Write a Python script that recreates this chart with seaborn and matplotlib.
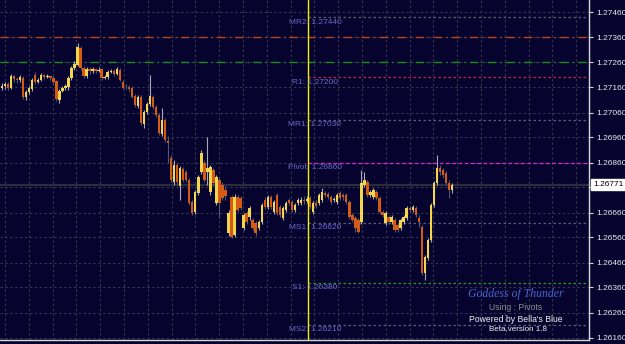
import numpy as np
import pandas as pd
import matplotlib
matplotlib.use("Agg")
import matplotlib.pyplot as plt
import seaborn as sns

# ---------------- data ----------------
opens = [1.27158,1.27166,1.27174,1.27158,1.27206,1.27194,1.27190,1.27198,1.27122,1.27142,
         1.27154,1.27210,1.27182,1.27190,1.27210,1.27202,1.27206,1.27198,1.27186,1.27110,
         1.27146,1.27158,1.27162,1.27198,1.27238,1.27250,1.27318,1.27238,1.27206,1.27234,
         1.27226,1.27234,1.27226,1.27234,1.27198,1.27202,1.27222,1.27226,1.27214,1.27230,
         1.27182,1.27162,1.27162,1.27158,1.27126,1.27086,1.27122,1.27014,1.27062,1.27094,
         1.27122,1.27082,1.27050,1.26974,1.27030,1.26946,1.26878,1.26782,1.26850,1.26766,
         1.26834,1.26822,1.26790,1.26702,1.26662,1.26738,1.26822,1.26858,1.26822,1.26742,
         1.26830,1.26698,1.26790,1.26770,1.26750,1.26578,1.26722,1.26570,1.26722,1.26718,
         1.26598,1.26658,1.26642,1.26630,1.26618,1.26598,1.26622,1.26710,1.26682,1.26722,
         1.26662,1.26730,1.26682,1.26638,1.26670,1.26710,1.26702,1.26670,1.26698,1.26698,
         1.26710,1.26706,1.26718,1.26662,1.26698,1.26698,1.26710,1.26738,1.26734,1.26722,
         1.26710,1.26702,1.26738,1.26730,1.26730,1.26702,1.26650,1.26638,1.26630,1.26622,
         1.26770,1.26782,1.26730,1.26722,1.26742,1.26718,1.26662,1.26618,1.26642,1.26622,
         1.26630,1.26610,1.26598,1.26622,1.26638,1.26678,1.26670,1.26678,1.26638,1.26602,
         1.26418,1.26478,1.26550,1.26690,1.26778,1.26838,1.26830,1.26818,1.26778,1.26750]
highs = [1.27178,1.27182,1.27182,1.27214,1.27210,1.27202,1.27210,1.27206,1.27150,1.27166,
         1.27198,1.27222,1.27198,1.27218,1.27214,1.27214,1.27210,1.27206,1.27190,1.27154,
         1.27166,1.27174,1.27206,1.27246,1.27266,1.27338,1.27326,1.27246,1.27242,1.27242,
         1.27242,1.27238,1.27242,1.27238,1.27210,1.27230,1.27234,1.27234,1.27242,1.27238,
         1.27190,1.27174,1.27170,1.27166,1.27134,1.27130,1.27130,1.27070,1.27102,1.27210,
         1.27130,1.27090,1.27058,1.27078,1.27038,1.26966,1.26890,1.26870,1.26858,1.26846,
         1.26842,1.26830,1.26798,1.26710,1.26750,1.26810,1.26910,1.26870,1.26962,1.26850,
         1.26838,1.26810,1.26798,1.26782,1.26766,1.26670,1.26730,1.26734,1.26730,1.26726,
         1.26658,1.26666,1.26686,1.26638,1.26626,1.26630,1.26698,1.26722,1.26730,1.26730,
         1.26710,1.26738,1.26690,1.26686,1.26706,1.26718,1.26710,1.26698,1.26718,1.26722,
         1.26726,1.26726,1.26726,1.26706,1.26710,1.26738,1.26758,1.26746,1.26742,1.26730,
         1.26722,1.26738,1.26746,1.26738,1.26738,1.26710,1.26658,1.26646,1.26638,1.26830,
         1.26822,1.26790,1.26750,1.26758,1.26750,1.26726,1.26670,1.26666,1.26650,1.26650,
         1.26638,1.26618,1.26638,1.26650,1.26686,1.26686,1.26690,1.26686,1.26650,1.26610,
         1.26490,1.26558,1.26698,1.26786,1.26890,1.26850,1.26838,1.26826,1.26790,1.26778]
lows = [1.27150,1.27154,1.27150,1.27154,1.27182,1.27178,1.27182,1.27114,1.27110,1.27134,
        1.27146,1.27174,1.27178,1.27186,1.27194,1.27198,1.27190,1.27174,1.27106,1.27098,
        1.27142,1.27150,1.27150,1.27190,1.27230,1.27246,1.27230,1.27198,1.27198,1.27214,
        1.27218,1.27218,1.27222,1.27190,1.27194,1.27194,1.27218,1.27206,1.27210,1.27186,
        1.27154,1.27154,1.27146,1.27118,1.27082,1.27078,1.27010,1.26998,1.27054,1.27086,
        1.27074,1.27042,1.26970,1.26966,1.26942,1.26858,1.26782,1.26770,1.26770,1.26710,
        1.26782,1.26782,1.26690,1.26650,1.26654,1.26730,1.26814,1.26782,1.26770,1.26730,
        1.26766,1.26690,1.26638,1.26710,1.26710,1.26566,1.26558,1.26562,1.26662,1.26670,
        1.26590,1.26614,1.26630,1.26590,1.26566,1.26590,1.26614,1.26674,1.26674,1.26674,
        1.26654,1.26650,1.26642,1.26630,1.26662,1.26690,1.26662,1.26662,1.26690,1.26690,
        1.26694,1.26698,1.26674,1.26654,1.26678,1.26690,1.26702,1.26722,1.26714,1.26694,
        1.26702,1.26694,1.26710,1.26710,1.26694,1.26634,1.26622,1.26582,1.26578,1.26614,
        1.26762,1.26722,1.26722,1.26714,1.26710,1.26654,1.26642,1.26610,1.26614,1.26614,
        1.26582,1.26582,1.26590,1.26614,1.26630,1.26662,1.26662,1.26642,1.26602,1.26410,
        1.26390,1.26470,1.26542,1.26682,1.26770,1.26810,1.26798,1.26770,1.26718,1.26738]
closes = [1.27166,1.27174,1.27158,1.27206,1.27194,1.27190,1.27202,1.27122,1.27142,1.27158,
          1.27190,1.27182,1.27190,1.27210,1.27202,1.27206,1.27198,1.27182,1.27114,1.27146,
          1.27158,1.27166,1.27198,1.27238,1.27254,1.27322,1.27238,1.27206,1.27234,1.27226,
          1.27234,1.27226,1.27230,1.27198,1.27202,1.27222,1.27226,1.27214,1.27234,1.27190,
          1.27158,1.27160,1.27154,1.27122,1.27090,1.27122,1.27018,1.27062,1.27094,1.27126,
          1.27082,1.27050,1.26978,1.27030,1.26950,1.26938,1.26790,1.26850,1.26782,1.26838,
          1.26790,1.26790,1.26698,1.26658,1.26742,1.26802,1.26898,1.26790,1.26838,1.26842,
          1.26778,1.26802,1.26698,1.26718,1.26726,1.26658,1.26562,1.26722,1.26670,1.26678,
          1.26650,1.26622,1.26678,1.26598,1.26578,1.26622,1.26690,1.26682,1.26722,1.26682,
          1.26702,1.26658,1.26650,1.26678,1.26698,1.26698,1.26670,1.26690,1.26710,1.26710,
          1.26706,1.26714,1.26682,1.26698,1.26686,1.26730,1.26742,1.26730,1.26722,1.26702,
          1.26714,1.26730,1.26718,1.26722,1.26702,1.26642,1.26630,1.26598,1.26582,1.26778,
          1.26790,1.26730,1.26742,1.26750,1.26718,1.26662,1.26650,1.26658,1.26622,1.26642,
          1.26590,1.26590,1.26630,1.26642,1.26678,1.26670,1.26682,1.26650,1.26622,1.26418,
          1.26482,1.26550,1.26690,1.26778,1.26838,1.26822,1.26810,1.26778,1.26750,1.26771]

price_ticks = [1.27460, 1.27360, 1.27260, 1.27160, 1.27060, 1.26960, 1.26860,
               1.26760, 1.26660, 1.26560, 1.26460, 1.26360, 1.26260, 1.26160]
pivot_names = ["MR2", "R1", "MR1", "Pivot", "MS1", "S1", "MS2"]
pivot_values = [1.27440, 1.27200, 1.27030, 1.26860, 1.26620, 1.26380, 1.26210]
band_values = [1.27360, 1.27260]
current_price = 1.26771
watermark = ["Goddess of Thunder", "Using : Pivots", "Powered by Bella's Blue", "Beta,version 1.8"]

# ---------------- styling ----------------
NAVY = "#06042f"
sns.set_theme(style="dark", rc={"axes.facecolor": NAVY, "figure.facecolor": NAVY,
                                 "savefig.facecolor": NAVY})
plt.rcParams["font.family"] = ["Liberation Sans", "DejaVu Sans"]

df = pd.DataFrame({"bar": np.arange(len(opens)), "open": opens, "high": highs,
                   "low": lows, "close": closes})
df["up"] = df["close"] >= df["open"]

W, H = 625, 344
fig = plt.figure(figsize=(W / 100, H / 100), dpi=100)
ax = fig.add_axes([0, 4 / H, 589 / W, 340 / H])

PX = 3.02           # pixels per bar
ax.set_xlim(-2 / PX, (589 - 2) / PX)
ax.set_ylim(1.26150, 1.27510)

def px2x(px):
    return (px - 2) / PX

# grid
grid_col = "#34344a"
for p in price_ticks:
    ax.axhline(p, color=grid_col, lw=0.8, ls=(0, (2.2, 2.2)), zorder=0)
for k in range(25):
    ax.axvline(px2x(5 + 23.8 * k), color=grid_col, lw=0.8, ls=(0, (2.2, 2.2)), zorder=0)

# current price line
ax.axhline(current_price, color="#2c2c3c", lw=1.6, zorder=1)

# full-width band lines
ax.axhline(band_values[0], color="#b8441c", lw=1.0, ls=(0, (6, 3, 1, 3)), zorder=2)
ax.axhline(band_values[1], color="#1c8c1c", lw=1.0, ls=(0, (6, 3, 1, 3)), zorder=2)

# pivot lines starting at the vertical marker
vx = px2x(308)
pstyle = {"MR2": ("#5c5c70", (0, (2, 2))), "R1": ("#c8203c", (0, (2, 2))),
          "MR1": ("#5c5c70", (0, (2, 2))), "Pivot": ("#d824d8", (0, (3, 2))),
          "MS1": ("#5c5c70", (0, (2, 2))), "S1": ("#22a022", (0, (2, 2))),
          "MS2": ("#5c5c70", (0, (2, 2)))}
for name, val in zip(pivot_names, pivot_values):
    col, ls = pstyle[name]
    ax.hlines(val, vx, px2x(587), colors=col, lw=0.9, linestyles=[ls], zorder=2)

# candles
bw = 2.4 / PX
up = df[df["up"]]
dn = df[~df["up"]]
ax.vlines(up["bar"], up["low"], up["high"], colors="#a8a8b8", lw=0.8, zorder=3)
ax.vlines(dn["bar"], dn["low"], dn["high"], colors="#4c5a6a", lw=0.8, zorder=3)
ax.bar(up["bar"], np.maximum(up["close"] - up["open"], 0.00002), bottom=up["open"],
       width=bw, color="#f2d64e", edgecolor="none", zorder=4)
ax.bar(dn["bar"], np.maximum(dn["open"] - dn["close"], 0.00002), bottom=dn["close"],
       width=bw, color="#d45a16", edgecolor="none", zorder=4)

# vertical yellow marker
ax.axvline(vx, color="#f0f000", lw=1.0, zorder=5)

# pivot labels
for name, val in zip(pivot_names, pivot_values):
    ax.text(px2x(315), val - 0.00005, f"{name}: {val:.5f}", ha="center", va="top",
            color="#6868c8", fontsize=6, zorder=6)

# axes (the tag of the current price hides the 1.26760 label)
ax.yaxis.tick_right()
ax.set_yticks(price_ticks)
ax.set_yticklabels(["" if abs(p - 1.26760) < 1e-7 else f"{p:.5f}" for p in price_ticks])
ax.set_xticks([px2x(5 + 47.6 * k) for k in range(13)])
ax.set_xticklabels([])
ax.tick_params(axis="y", direction="out", length=3, width=0.8, color="#d8d8d8",
               labelsize=6, labelcolor="#e8e8e8", pad=2)
ax.tick_params(axis="x", direction="out", length=3, width=0.8, color="#d8d8d8")
for s in ["top", "left"]:
    ax.spines[s].set_visible(False)
for s in ["right", "bottom"]:
    ax.spines[s].set_visible(True)
    ax.spines[s].set_color("#d8d8d8")
    ax.spines[s].set_linewidth(1.0)
ax.grid(False)
ax.set_xlabel("")
ax.set_ylabel("")

# current price tag
ax.annotate(f"{current_price:.5f}", xy=(1, current_price), xycoords=("axes fraction", "data"),
            xytext=(3, 0), textcoords="offset points", ha="left", va="center",
            fontsize=6, color="black",
            bbox=dict(boxstyle="square,pad=0.25", fc="white", ec="white"),
            annotation_clip=False, zorder=10)

# watermark
fig.text(516 / W, 1 - 294 / H, watermark[0], ha="center", va="center",
         color="#4a64d0", fontsize=8.5, family=["Liberation Serif", "DejaVu Serif"],
         style="italic")
fig.text(516 / W, 1 - 307 / H, watermark[1], ha="center", va="center",
         color="#8c8c8c", fontsize=6.2)
fig.text(516 / W, 1 - 319 / H, watermark[2], ha="center", va="center",
         color="#f0f0f0", fontsize=6.2)
fig.text(518 / W, 1 - 329 / H, watermark[3], ha="center", va="center",
         color="#f0f0f0", fontsize=5.8)

fig.savefig("out.png", dpi=100, facecolor=NAVY)
